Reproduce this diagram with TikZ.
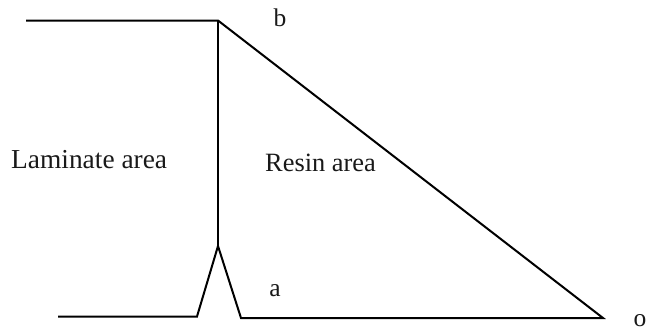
\documentclass[tikz,border=0pt]{standalone}
\usepackage{fontspec}
\setmainfont{Liberation Serif}
\tikzset{lbl/.style={inner sep=0pt,font=\fontsize{25.5}{28}\selectfont,text=black!90},ln/.style={line width=2pt,line join=miter,black},thin ln/.style={line width=1.3pt,black}}
\begin{document}
\begin{tikzpicture}[x=1pt,y=-1pt]
\useasboundingbox (0,0) rectangle (653,333);
\coordinate (tl) at (26,20.5);
\coordinate (top) at (218,20.5);
\coordinate (o) at (603,318);
\coordinate (base) at (218,246);
\coordinate (fl) at (58,316.5);
\coordinate (p1) at (197,316.5);
\coordinate (p2) at (241,318);
\draw[ln] (tl) -- (top) -- (o) -- (p2) -- (base) -- (p1) -- (fl);
\draw[thin ln] (top) -- (base);
\node[lbl] (b) at (280,18) {b};
\node[lbl] (a) at (275,291) {a};
\node[lbl] (oo) at (640,321) {o};
\node[lbl,anchor=west,font=\fontsize{27.4}{30}\selectfont] (lam) at (11,160) {Laminate area};
\node[lbl,anchor=west,font=\fontsize{26.4}{29}\selectfont] (res) at (265,163) {Resin area};
\end{tikzpicture}
\end{document}
